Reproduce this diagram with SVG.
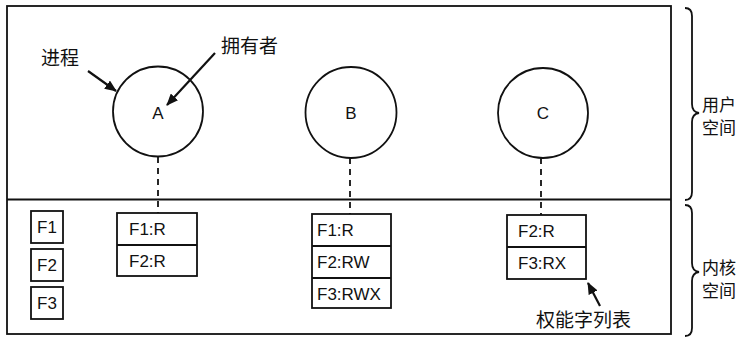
<svg xmlns="http://www.w3.org/2000/svg" width="749" height="338" viewBox="0 0 749 338">
<style>
.ln{fill:none;stroke:#111;stroke-width:1.8}
.box{fill:#fff;stroke:#111;stroke-width:1.8}
.dash{fill:none;stroke:#111;stroke-width:1.8;stroke-dasharray:6 5}
.lat{font-family:"Liberation Sans",Arial,sans-serif;font-size:17px;fill:#111}
.cjk{font-family:"Noto Sans CJK SC","Noto Sans",sans-serif;font-size:19px;fill:#111}
.cjks{font-family:"Noto Sans CJK SC","Noto Sans",sans-serif;font-size:17px;fill:#111}
.arr{fill:none;stroke:#111;stroke-width:2.2}
</style>
<defs>
<marker id="ah" viewBox="0 0 12 10" refX="11" refY="5" markerWidth="12" markerHeight="10" markerUnits="userSpaceOnUse" orient="auto">
<path d="M0,0 L12,5 L0,10 Z" fill="#111"/>
</marker>
</defs>
<rect id="frame" x="7" y="6" width="664" height="328" class="ln" stroke-width="2"/>
<line x1="7" y1="199.5" x2="671" y2="199.5" class="ln" stroke-width="2"/>
<g id="connectors">
<line x1="158" y1="157" x2="158" y2="213" class="dash"/>
<line x1="350" y1="158" x2="350" y2="214" class="dash"/>
<line x1="541" y1="158" x2="541" y2="215" class="dash"/>
<line x1="88" y1="71" x2="116" y2="91" class="arr" marker-end="url(#ah)"/>
<line x1="215" y1="53" x2="167" y2="105" class="arr" marker-end="url(#ah)"/>
<line x1="600" y1="306" x2="588" y2="283" class="arr" marker-end="url(#ah)"/>
</g>
<g id="procA">
<circle cx="158" cy="111.5" r="45" class="ln"/>
<text x="158" y="119" class="lat" text-anchor="middle">A</text>
</g>
<g id="procB">
<circle cx="351" cy="112.5" r="45.5" class="ln"/>
<text x="351" y="119" class="lat" text-anchor="middle">B</text>
</g>
<g id="procC">
<circle cx="543" cy="113" r="45" class="ln"/>
<text x="543" y="119" class="lat" text-anchor="middle">C</text>
</g>
<g id="capA">
<rect x="117" y="213" width="80" height="63" class="box"/>
<line x1="117" y1="245" x2="197" y2="245" class="ln"/>
<text x="129" y="235" class="lat">F1:R</text>
<text x="129" y="267" class="lat">F2:R</text>
</g>
<g id="capB">
<rect x="312" y="214" width="79" height="94" class="box"/>
<line x1="312" y1="246" x2="391" y2="246" class="ln"/>
<line x1="312" y1="278" x2="391" y2="278" class="ln"/>
<text x="317" y="236" class="lat">F1:R</text>
<text x="317" y="268" class="lat">F2:RW</text>
<text x="317" y="300" class="lat">F3:RWX</text>
</g>
<g id="capC">
<rect x="507" y="215" width="79" height="64" class="box"/>
<line x1="507" y1="247" x2="586" y2="247" class="ln"/>
<text x="518" y="237" class="lat">F2:R</text>
<text x="518" y="269" class="lat">F3:RX</text>
</g>
<g id="F1"><rect x="31" y="211" width="32" height="32" class="box"/><text x="47" y="233" class="lat" text-anchor="middle">F1</text></g>
<g id="F2"><rect x="31" y="249" width="32" height="32" class="box"/><text x="47" y="271" class="lat" text-anchor="middle">F2</text></g>
<g id="F3"><rect x="31" y="287" width="32" height="32" class="box"/><text x="47" y="309" class="lat" text-anchor="middle">F3</text></g>
<g id="labels">
<text x="41" y="65" class="cjk">进程</text>
<text x="221" y="53" class="cjk">拥有者</text>
<text x="536" y="327" class="cjk">权能字列表</text>
</g>
<g id="userBrace">
<path d="M685,8 Q692,8 692,16 L692,104 Q692,112 699,113 Q692,114 692,122 L692,192 Q692,200 685,200" class="ln" stroke-width="1.5"/>
<text x="702" y="111" class="cjks">用户</text>
<text x="702" y="134" class="cjks">空间</text>
</g>
<g id="kernelBrace">
<path d="M685,205 Q692,205 692,213 L692,263 Q692,271 699,272 Q692,273 692,281 L692,328 Q692,336 685,336" class="ln" stroke-width="1.5"/>
<text x="702" y="274" class="cjks">内核</text>
<text x="702" y="297" class="cjks">空间</text>
</g>
</svg>
